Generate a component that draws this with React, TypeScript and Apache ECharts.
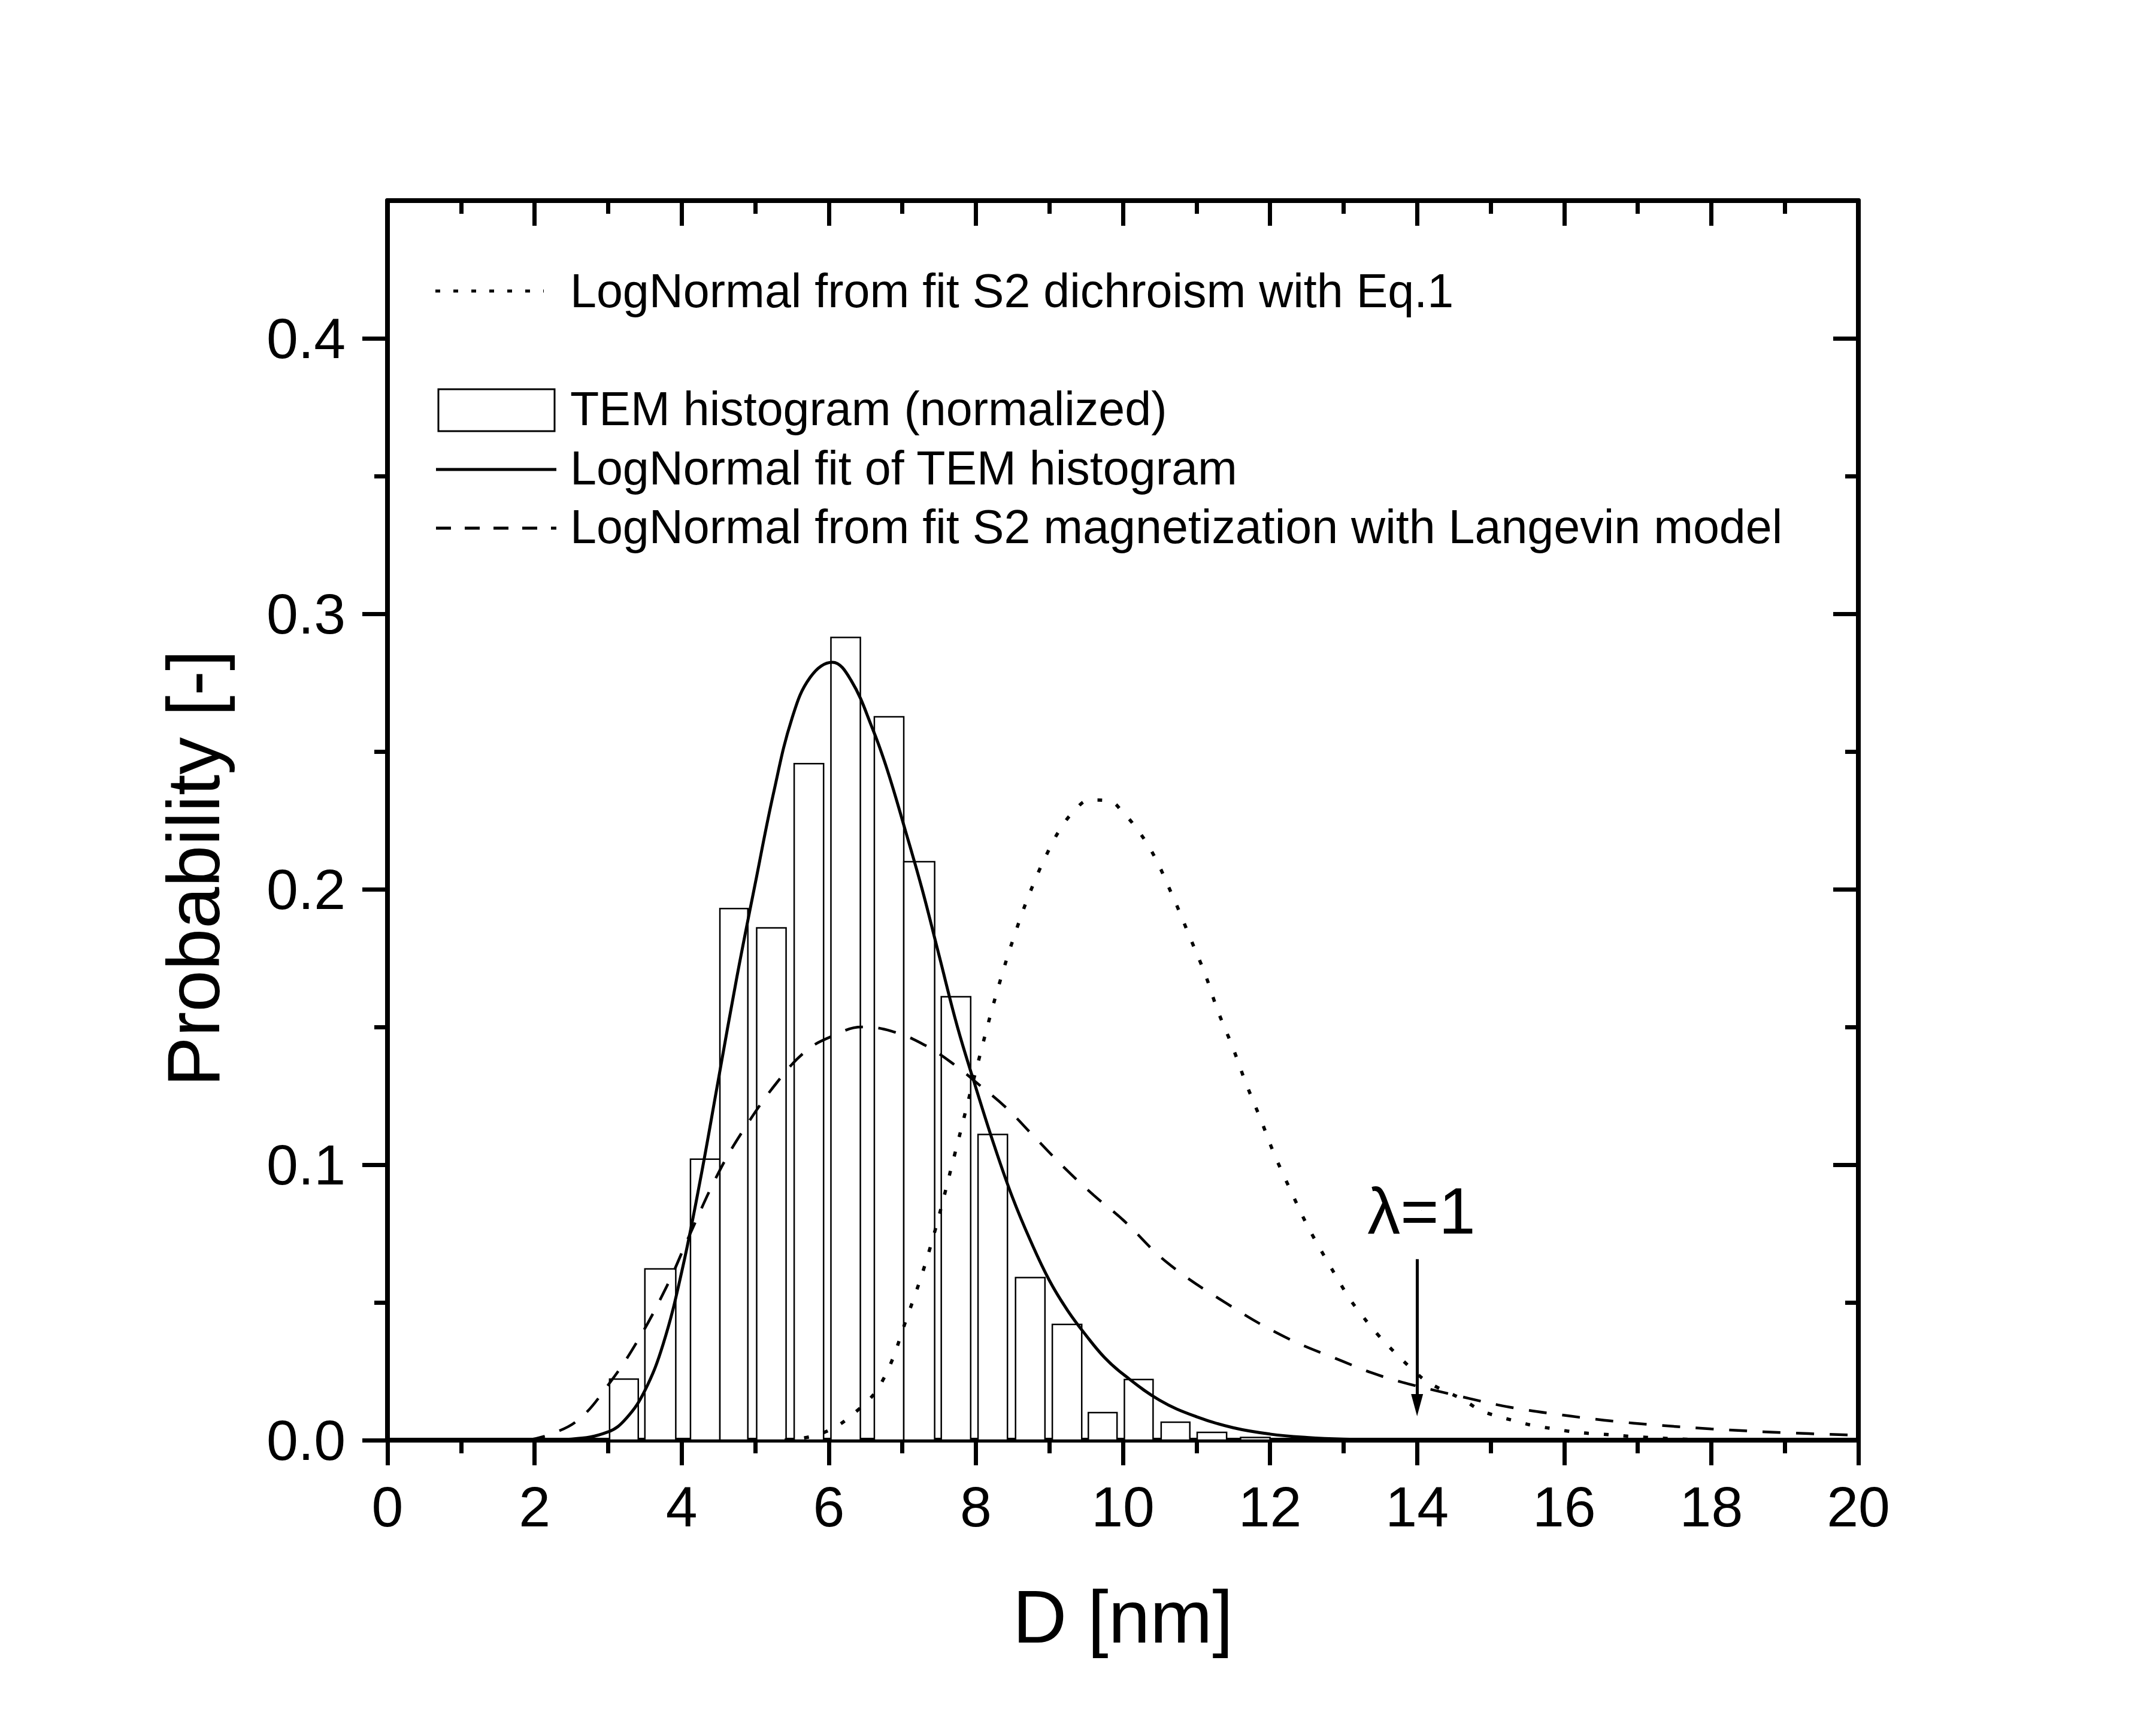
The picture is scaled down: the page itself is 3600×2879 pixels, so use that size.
import React, { useEffect, useRef } from "react";
import * as echarts from "echarts";

const FONT = '"Liberation Sans", Arial, Helvetica, sans-serif';

// ---- axes ----
const xMin = 0;
const xMax = 20;
const xInterval = 2;
const yMin = 0;
const yMax = 0.45;
const yTickValues = [0, 0.1, 0.2, 0.3, 0.4];

// ---- TEM histogram (normalized): bin edges and heights ----
const binStart = [3.02, 3.5, 4.12, 4.52, 5.02, 5.53, 6.03, 6.62, 7.02, 7.53, 8.03, 8.54, 9.04, 9.53, 10.02, 10.52, 11.01, 11.6];
const binEnd = [3.41, 3.92, 4.52, 4.9, 5.42, 5.93, 6.43, 7.02, 7.44, 7.93, 8.43, 8.94, 9.44, 9.92, 10.41, 10.91, 11.41, 12.0];
const binHeight = [0.0222, 0.0622, 0.102, 0.193, 0.186, 0.2456, 0.2914, 0.2626, 0.21, 0.161, 0.111, 0.059, 0.042, 0.01, 0.022, 0.0065, 0.0028, 0.001];

// ---- LogNormal fit of TEM histogram (solid) ----
const temFitX = [2.0, 2.5, 3.0, 3.25, 3.5, 3.75, 4.0, 4.25, 4.5, 4.75, 5.0, 5.25, 5.5, 5.75, 6.05, 6.3, 6.6, 6.8, 7.04, 7.27, 7.5, 7.75, 8.0, 8.25, 8.5, 8.75, 9.0, 9.25, 9.5, 9.75, 10.0, 10.5, 11.0, 11.5, 12.0, 12.5, 13.0, 14.0];
const temFitY = [0.0, 0.0004, 0.003, 0.008, 0.018, 0.035, 0.061, 0.094, 0.131, 0.168, 0.202, 0.235, 0.262, 0.277, 0.2824, 0.276, 0.258, 0.243, 0.2215, 0.2, 0.176, 0.15, 0.128, 0.107, 0.088, 0.072, 0.058, 0.047, 0.038, 0.03, 0.024, 0.0145, 0.0085, 0.0045, 0.0022, 0.001, 0.0004, 0.0];

// ---- LogNormal from fit S2 magnetization with Langevin model (dashed) ----
const langevinX = [1.9, 2.2, 2.6, 3.0, 3.4, 3.8, 4.1, 4.5, 4.85, 5.3, 5.7, 6.05, 6.45, 6.85, 7.3, 7.75, 8.0, 8.4, 8.8, 9.2, 9.6, 10.0, 10.6, 11.4, 12.2, 13.0, 13.4, 13.8, 14.3, 14.7, 15.1, 15.5, 15.9, 16.3, 16.7, 17.2, 18.0, 19.0, 20.0];
const langevinY = [0.0, 0.002, 0.0075, 0.02, 0.036, 0.056, 0.074, 0.097, 0.113, 0.13, 0.1415, 0.1467, 0.15, 0.1485, 0.1435, 0.1355, 0.13, 0.121, 0.11, 0.099, 0.089, 0.08, 0.0645, 0.0498, 0.0375, 0.0285, 0.0243, 0.021, 0.0177, 0.0152, 0.0128, 0.0109, 0.0094, 0.008, 0.0068, 0.0056, 0.0041, 0.0027, 0.0018];

// ---- LogNormal from fit S2 dichroism with Eq.1 (dotted) ----
const dichroismX = [5.4, 5.92, 6.39, 6.73, 7.07, 7.38, 7.72, 8.0, 8.29, 8.56, 8.8, 9.01, 9.145, 9.32, 9.55, 9.8, 10.02, 10.21, 10.37, 10.5, 10.61, 10.72, 10.92, 11.12, 11.29, 11.49, 11.67, 11.87, 12.06, 12.28, 12.51, 12.8, 13.08, 13.26, 13.46, 13.69, 13.92, 14.15, 14.61, 14.86, 15.09, 15.33, 15.56, 15.81, 16.04, 16.27, 16.51, 17.0, 17.5, 18.0];
const dichroismY = [0.0, 0.0026, 0.0108, 0.0215, 0.045, 0.07, 0.1045, 0.134, 0.163, 0.186, 0.203, 0.2152, 0.2217, 0.2279, 0.2324, 0.2322, 0.2273, 0.2212, 0.2147, 0.2081, 0.2015, 0.1949, 0.182, 0.169, 0.1559, 0.1428, 0.1298, 0.1167, 0.1037, 0.0907, 0.0778, 0.064, 0.0515, 0.045, 0.0385, 0.032, 0.0261, 0.021, 0.0149, 0.0109, 0.0087, 0.007, 0.0054, 0.0043, 0.0033, 0.0026, 0.0022, 0.0012, 0.0005, 0.0001];

// ---- annotation λ=1 ----
const lambdaText = "λ=1";
const lambdaLabelPos = [14.06, 0.0833];
const arrowX = 14.0;
const arrowTop = 0.0657;
const arrowTip = 0.0127;

// ---- texts ----
const xTitle = "D [nm]";
const yTitle = "Probability [-]";
const legendDotted = "LogNormal from fit S2 dichroism with Eq.1";
const legendHist = "TEM histogram (normalized)";
const legendSolid = "LogNormal fit of TEM histogram";
const legendDashed = "LogNormal from fit S2 magnetization with Langevin model";

const pairs = (xs: number[], ys: number[]) => xs.map((x, i) => [x, ys[i]]);

export default function App() {
  const ref = useRef<HTMLDivElement>(null);

  useEffect(() => {
    document.body.style.margin = "0";
    if (!ref.current) return;
    const chart = echarts.init(ref.current, null, { renderer: "svg" });

    const gridLeft = 647;
    const gridTop = 335;
    const gridWidth = 3103 - 647;
    const gridHeight = 2405 - 335;

    const axisLineStyle = { color: "#000", width: 8 };
    const tickStyle = { color: "#000", width: 7 };

    const legendText = (text: string, y: number) => ({
      type: "text",
      x: 952,
      y,
      style: {
        text,
        fontSize: 79,
        fontFamily: FONT,
        fill: "#000",
        align: "left",
        verticalAlign: "middle",
      },
    });

    const option: any = {
      animation: false,
      backgroundColor: "#fff",
      grid: {
        left: gridLeft,
        top: gridTop,
        width: gridWidth,
        height: gridHeight,
        containLabel: false,
        outerBoundsMode: "none",
      },
      xAxis: [
        {
          type: "value",
          position: "bottom",
          min: xMin,
          max: xMax,
          interval: xInterval,
          axisLine: { show: true, onZero: false, lineStyle: axisLineStyle },
          axisTick: { show: true, inside: false, length: 42, lineStyle: tickStyle },
          minorTick: { show: true, splitNumber: 2, length: 22, lineStyle: tickStyle },
          splitLine: { show: false },
          axisLabel: { show: true, fontSize: 95, fontFamily: FONT, color: "#000", margin: 63 },
          name: xTitle,
          nameLocation: "middle",
          nameGap: 232,
          nameMoveOverlap: false,
          nameTextStyle: { fontSize: 125, fontFamily: FONT, color: "#000" },
        },
        {
          type: "value",
          position: "top",
          min: xMin,
          max: xMax,
          interval: xInterval,
          axisLine: { show: true, onZero: false, lineStyle: axisLineStyle },
          axisTick: { show: true, inside: true, length: 42, lineStyle: tickStyle },
          minorTick: { show: true, splitNumber: 2, length: 22, lineStyle: tickStyle },
          splitLine: { show: false },
          axisLabel: { show: false },
        },
      ],
      yAxis: [
        {
          type: "value",
          position: "left",
          min: yMin,
          max: yMax,
          interval: 0.1,
          axisLine: { show: true, onZero: false, lineStyle: axisLineStyle },
          axisTick: { show: true, inside: false, length: 42, lineStyle: tickStyle, customValues: yTickValues },
          minorTick: { show: true, splitNumber: 2, length: 22, lineStyle: tickStyle },
          splitLine: { show: false },
          axisLabel: {
            show: true,
            fontSize: 95,
            fontFamily: FONT,
            color: "#000",
            margin: 70,
            customValues: yTickValues,
            formatter: (v: number) => v.toFixed(1),
          },
          name: yTitle,
          nameLocation: "middle",
          nameGap: 262,
          nameRotate: 90,
          nameMoveOverlap: false,
          nameTextStyle: { fontSize: 125, fontFamily: FONT, color: "#000", padding: [0, 160, 0, 0] },
        },
        {
          type: "value",
          position: "right",
          min: yMin,
          max: yMax,
          interval: 0.1,
          axisLine: { show: true, onZero: false, lineStyle: axisLineStyle },
          axisTick: { show: true, inside: true, length: 42, lineStyle: tickStyle, customValues: yTickValues },
          minorTick: { show: true, splitNumber: 2, length: 22, lineStyle: tickStyle },
          splitLine: { show: false },
          axisLabel: { show: false },
        },
      ],
      graphic: [
        {
          type: "line",
          shape: { x1: 727, y1: 486, x2: 908, y2: 486 },
          style: { stroke: "#000", lineWidth: 5, lineDash: [8, 22] },
        },
        legendText(legendDotted, 485),
        {
          type: "rect",
          shape: { x: 732, y: 650, width: 194, height: 70 },
          style: { fill: "#fff", stroke: "#000", lineWidth: 3 },
        },
        legendText(legendHist, 682),
        {
          type: "line",
          shape: { x1: 728, y1: 784, x2: 929, y2: 784 },
          style: { stroke: "#000", lineWidth: 5 },
        },
        legendText(legendSolid, 781),
        {
          type: "line",
          shape: { x1: 728, y1: 882, x2: 929, y2: 882 },
          style: { stroke: "#000", lineWidth: 5, lineDash: [25, 23] },
        },
        legendText(legendDashed, 879),
      ],
      series: [
        {
          type: "custom",
          name: legendHist,
          xAxisIndex: 0,
          yAxisIndex: 0,
          z: 1,
          data: binStart.map((s, i) => [s, binEnd[i], binHeight[i]]),
          encode: { x: [0, 1], y: 2 },
          renderItem: (params: any, api: any) => {
            const p0 = api.coord([api.value(0), api.value(2)]);
            const p1 = api.coord([api.value(1), 0]);
            return {
              type: "rect",
              shape: { x: p0[0], y: p0[1], width: p1[0] - p0[0], height: p1[1] - p0[1] },
              style: { fill: "#fff", stroke: "#000", lineWidth: 2.5 },
            };
          },
        },
        {
          type: "line",
          name: legendSolid,
          z: 3,
          data: pairs(temFitX, temFitY),
          symbol: "none",
          smooth: 0.4,
          lineStyle: { color: "#000", width: 5, type: "solid" },
        },
        {
          type: "line",
          name: legendDashed,
          z: 3,
          data: pairs(langevinX, langevinY),
          symbol: "none",
          smooth: 0.4,
          lineStyle: { color: "#000", width: 4.5, type: [30, 26] },
        },
        {
          type: "line",
          name: legendDotted,
          z: 3,
          data: pairs(dichroismX, dichroismY),
          symbol: "none",
          smooth: 0.4,
          lineStyle: { color: "#000", width: 5.5, type: [8, 25] },
        },
        {
          type: "scatter",
          name: lambdaText,
          z: 4,
          data: [lambdaLabelPos],
          symbolSize: 0.5,
          itemStyle: { color: "#000", opacity: 1 },
          label: {
            show: true,
            position: "inside",
            formatter: lambdaText,
            fontSize: 110,
            fontFamily: FONT,
            color: "#000",
            opacity: 1,
            textBorderWidth: 0,
            align: "center",
            verticalAlign: "middle",
          },
          markLine: {
            silent: true,
            symbol: ["none", "triangle"],
            symbolSize: [20, 37],
            label: { show: false },
            lineStyle: { color: "#000", width: 5, type: "solid", opacity: 1 },
            itemStyle: { color: "#000" },
            data: [[{ coord: [arrowX, arrowTop] }, { coord: [arrowX, arrowTip] }]],
          },
        },
      ],
    };

    chart.setOption(option);
    return () => {
      chart.dispose();
    };
  }, []);

  return <div ref={ref} style={{ width: 3600, height: 2879 }} />;
}
